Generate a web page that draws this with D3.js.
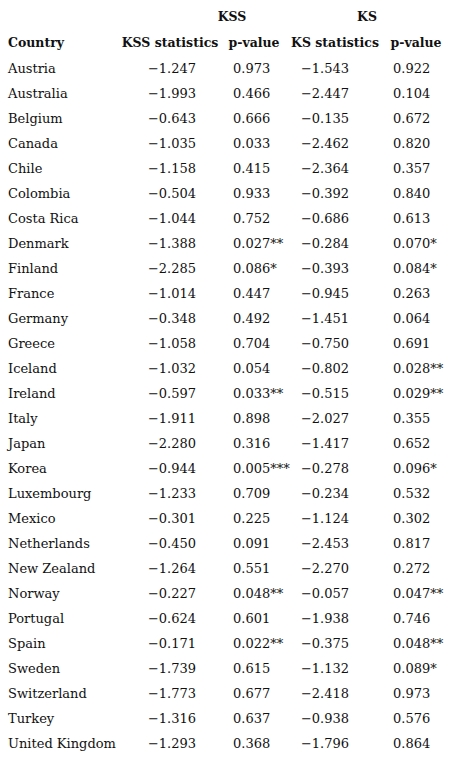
<!DOCTYPE html>
<html><head><meta charset="utf-8">
<script src="https://cdn.jsdelivr.net/npm/d3@7"></script>
<style>body{margin:0;background:#fff}</style></head>
<body><svg id="c" width="450" height="758"></svg>
<script>
const countries=["Austria","Australia","Belgium","Canada","Chile","Colombia","Costa Rica","Denmark","Finland","France","Germany","Greece","Iceland","Ireland","Italy","Japan","Korea","Luxembourg","Mexico","Netherlands","New Zealand","Norway","Portugal","Spain","Sweden","Switzerland","Turkey","United Kingdom"];
const kssStat=["−1.247","−1.993","−0.643","−1.035","−1.158","−0.504","−1.044","−1.388","−2.285","−1.014","−0.348","−1.058","−1.032","−0.597","−1.911","−2.280","−0.944","−1.233","−0.301","−0.450","−1.264","−0.227","−0.624","−0.171","−1.739","−1.773","−1.316","−1.293"];
const kssP=["0.973","0.466","0.666","0.033","0.415","0.933","0.752","0.027**","0.086*","0.447","0.492","0.704","0.054","0.033**","0.898","0.316","0.005***","0.709","0.225","0.091","0.551","0.048**","0.601","0.022**","0.615","0.677","0.637","0.368"];
const ksStat=["−1.543","−2.447","−0.135","−2.462","−2.364","−0.392","−0.686","−0.284","−0.393","−0.945","−1.451","−0.750","−0.802","−0.515","−2.027","−1.417","−0.278","−0.234","−1.124","−2.453","−2.270","−0.057","−1.938","−0.375","−1.132","−2.418","−0.938","−1.796"];
const ksP=["0.922","0.104","0.672","0.820","0.357","0.840","0.613","0.070*","0.084*","0.263","0.064","0.691","0.028**","0.029**","0.355","0.652","0.096*","0.532","0.302","0.817","0.272","0.047**","0.746","0.048**","0.089*","0.973","0.576","0.864"];
const groupHeaders=["KSS","KS"];
const colHeaders=["Country","KSS statistics","p-value","KS statistics","p-value"];

const svg=d3.select("#c");
const font="'DejaVu Serif', serif";
const y=d3.scaleBand().domain(d3.range(countries.length)).range([55.5,755.5]);
const g=svg.append("g").attr("font-family",font).attr("font-size",13).attr("fill","#111");
const cols=[
 {data:countries,x:8,anchor:"start"},
 {data:kssStat,x:196,anchor:"end"},
 {data:kssP,x:233,anchor:"start"},
 {data:ksStat,x:349,anchor:"end"},
 {data:ksP,x:393,anchor:"start"}];
cols.forEach(c=>{
 g.selectAll(null).data(c.data).join("text")
  .attr("x",c.x).attr("y",(d,i)=>y(i)+y.bandwidth()/2).attr("dy","0.35em")
  .attr("text-anchor",c.anchor).text(d=>d);
});
const h=svg.append("g").attr("font-family",font).attr("font-size",12.5).attr("font-weight","bold").attr("fill","#111");
h.selectAll(null).data(groupHeaders).join("text").attr("x",(d,i)=>[232,367][i]).attr("y",17).attr("dy","0.35em").attr("text-anchor","middle").text(d=>d);
h.selectAll(null).data(colHeaders).join("text").attr("x",(d,i)=>[8,170,254,335,416][i]).attr("y",43).attr("dy","0.35em").attr("text-anchor",(d,i)=>i?"middle":"start").text(d=>d);
</script></body></html>
